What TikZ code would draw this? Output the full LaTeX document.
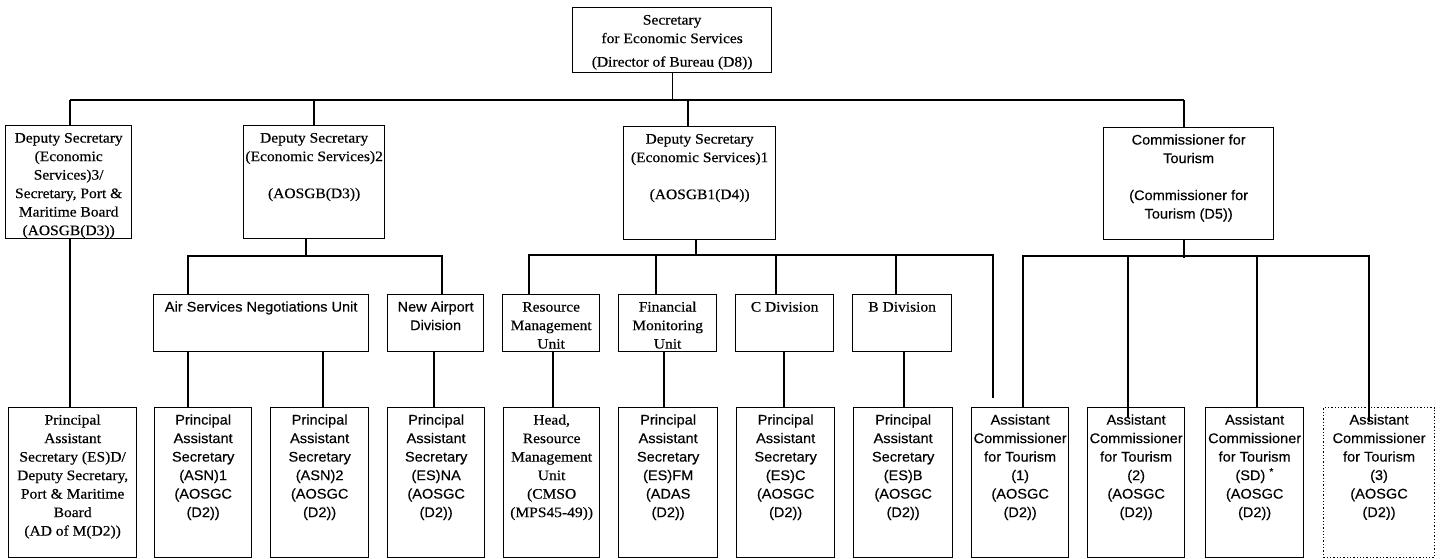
\documentclass[tikz,border=0pt]{standalone}
\usepackage{fontspec}
\setmainfont[FakeStretch=1.07,FakeBold=0.4]{Liberation Serif}
\newfontfamily\optfont[FakeStretch=1.04,FakeBold=0.3]{Liberation Sans}
\tikzset{
  obox/.style={draw, line width=1.3pt, inner sep=0pt, anchor=north west, font=\fontsize{14.5}{18.5}\selectfont},
  sbox/.style={obox, font=\optfont\fontsize{14}{18.5}\selectfont},
  dotbox/.style={sbox, dotted, line width=1.1pt},
  conn/.style={line width=1.3pt}
}
\newcommand\ob[7][]{\node[obox,#1] (#2) at (#3,#4) {\parbox[c][#6pt][t]{#5pt}{\centering\vspace*{4pt}\strut#7}};}
\begin{document}
\begin{tikzpicture}[x=1pt,y=-1pt]
\useasboundingbox (0,0) rectangle (1444,559);
% level 1
\ob{top}{572}{7}{199}{65}{Secretary\\for Economic Services\\[5pt](Director of Bureau (D8))}
% level 2
\ob{ds3}{5}{125}{126}{113}{Deputy Secretary\\(Economic\\Services)3/\\Secretary, Port \&\\Maritime Board\\(AOSGB(D3))}
\ob{ds2}{243}{125}{141}{113}{Deputy Secretary\\(Economic Services)2\\[18.5pt](AOSGB(D3))}
\ob{ds1}{623}{126}{152}{113}{Deputy Secretary\\(Economic Services)1\\[18.5pt](AOSGB1(D4))}
\ob[sbox]{ct}{1103}{127}{170}{112}{Commissioner for\\Tourism\\[18.5pt](Commissioner for\\Tourism (D5))}
% level 3
\ob[sbox]{asnu}{153}{294}{215}{57}{Air Services Negotiations Unit}
\ob[sbox]{nad}{387}{294}{96}{57}{New Airport\\Division}
\ob{rmu}{502}{294}{97}{57}{Resource\\Management\\Unit}
\ob{fmu}{618}{294}{98}{57}{Financial\\Monitoring\\Unit}
\ob{cdiv}{735}{294}{98}{57}{C Division}
\ob{bdiv}{852}{294}{99}{57}{B Division}
% level 4
\ob{pasd}{8}{407}{128}{150}{Principal\\Assistant\\Secretary (ES)D/\\Deputy Secretary,\\Port \& Maritime\\Board\\(AD of M(D2))}
\ob[sbox]{asn1}{154}{407}{97}{150}{Principal\\Assistant\\Secretary\\(ASN)1\\(AOSGC\\(D2))}
\ob[sbox]{asn2}{270}{407}{98}{150}{Principal\\Assistant\\Secretary\\(ASN)2\\(AOSGC\\(D2))}
\ob[sbox]{esna}{387}{407}{97}{150}{Principal\\Assistant\\Secretary\\(ES)NA\\(AOSGC\\(D2))}
\ob{hrmu}{503}{407}{96}{150}{Head,\\Resource\\Management\\Unit\\(CMSO\\(MPS45-49))}
\ob[sbox]{esfm}{618}{407}{99}{150}{Principal\\Assistant\\Secretary\\(ES)FM\\(ADAS\\(D2))}
\ob[sbox]{esc}{736}{407}{98}{150}{Principal\\Assistant\\Secretary\\(ES)C\\(AOSGC\\(D2))}
\ob[sbox]{esb}{853}{407}{99}{150}{Principal\\Assistant\\Secretary\\(ES)B\\(AOSGC\\(D2))}
\ob[sbox]{act1}{971}{407}{97}{150}{Assistant\\Commissioner\\for Tourism\\(1)\\(AOSGC\\(D2))}
\ob[sbox]{act2}{1087}{407}{97}{150}{Assistant\\Commissioner\\for Tourism\\(2)\\(AOSGC\\(D2))}
\ob[sbox]{actsd}{1205}{407}{98}{150}{Assistant\\Commissioner\\for Tourism\\(SD) \textsuperscript{*}\\(AOSGC\\(D2))}
\ob[dotbox]{act3}{1323}{407}{111}{150}{Assistant\\Commissioner\\for Tourism\\(3)\\(AOSGC\\(D2))}
% connectors: top level
\coordinate (busL) at (70,100);
\coordinate (busR) at (1184,100);
\draw[conn] (top.south) -- (top.south |- busL);
\draw[conn] (busL) -- (busR);
\draw[conn] (busL) -- (ds3.north -| busL);
\draw[conn] (ds2.north -| 314,0) -- (314,100);
\draw[conn] (ds1.north -| 688,0) -- (688,100);
\draw[conn] (busR) -- (ct.north -| busR);
% DS3
\draw[conn] (ds3.south -| 70,0) -- (pasd.north -| 70,0);
% DS2
\draw[conn] (ds2.south -| 306,0) -- (306,256);
\draw[conn] (asnu.north -| 188,0) -- (188,256) -- (442,256) -- (nad.north -| 442,0);
\draw[conn] (asnu.south -| 188,0) -- (asn1.north -| 188,0);
\draw[conn] (asnu.south -| 323,0) -- (asn2.north -| 323,0);
\draw[conn] (nad.south -| 434,0) -- (esna.north -| 434,0);
% DS1
\coordinate (loose) at (993,398);
\draw[conn] (ds1.south -| 696,0) -- (696,255);
\draw[conn] (rmu.north -| 529,0) -- (529,255) -- (993,255) -- (loose);
\draw[conn] (fmu.north -| 656,0) -- (656,255);
\draw[conn] (cdiv.north -| 776,0) -- (776,255);
\draw[conn] (bdiv.north -| 896,0) -- (896,255);
\draw[conn] (rmu.south -| 553,0) -- (hrmu.north -| 553,0);
\draw[conn] (fmu.south -| 664,0) -- (esfm.north -| 664,0);
\draw[conn] (cdiv.south -| 784,0) -- (esc.north -| 784,0);
\draw[conn] (bdiv.south -| 904,0) -- (esb.north -| 904,0);
% CT
\draw[conn] (ct.south -| 1184,0) -- (1184,258);
\draw[conn] (act1.north -| 1023,0) -- (1023,256) -- (1369,256) -- ([yshift=-15pt]act3.north -| 1369,0);
\draw[conn] (1128,256) -- ([yshift=-11pt]act2.north -| 1128,0);
\draw[conn] (1257,256) -- (actsd.north -| 1257,0);
\end{tikzpicture}
\end{document}
